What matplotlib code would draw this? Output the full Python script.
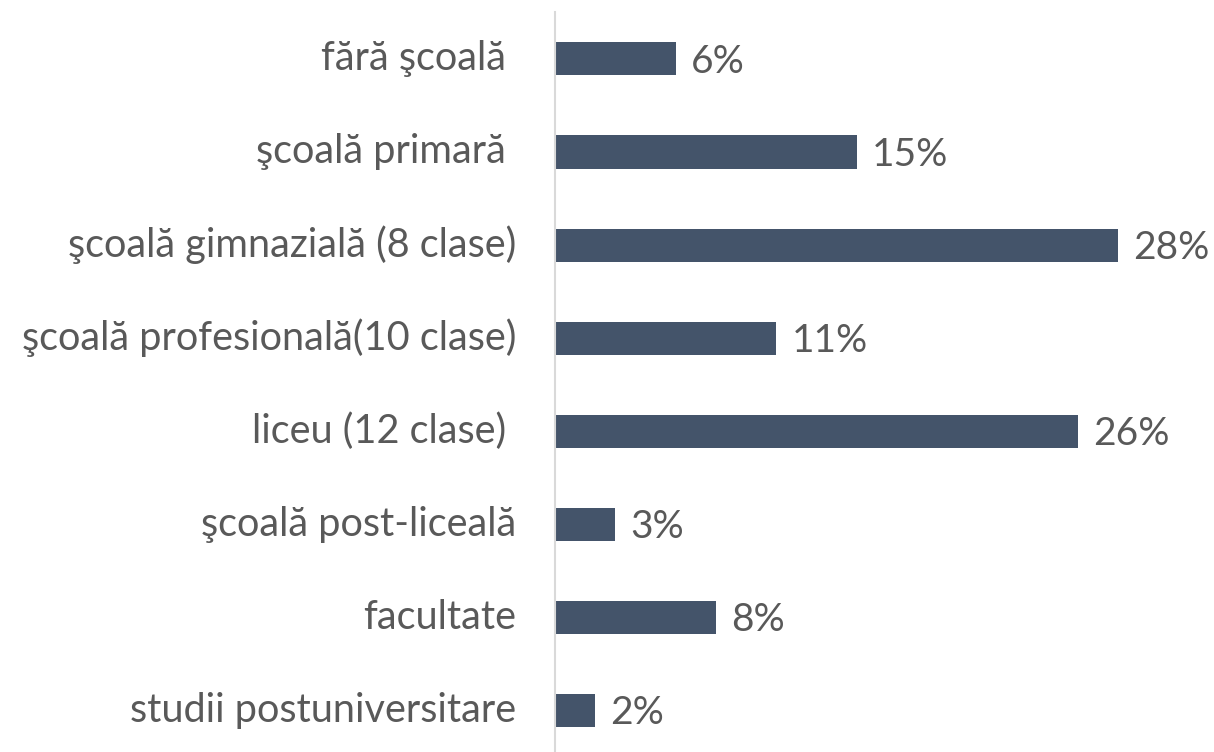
import matplotlib.pyplot as plt

categories = [
    "fără şcoală ",
    "şcoală primară ",
    "şcoală gimnazială (8 clase)",
    "şcoală profesională(10 clase)",
    "liceu (12 clase) ",
    "şcoală post-liceală",
    "facultate",
    "studii postuniversitare",
]
percent = [6, 15, 28, 11, 26, 3, 8, 2]

BAR = "#44546A"
TEXT = "#595959"

plt.rcParams["font.family"] = ["Lato", "DejaVu Sans"]

fig = plt.figure(figsize=(12.14, 7.52), dpi=100)
ax = fig.add_axes([555 / 1214, 0, 659 / 1214, 740 / 752])

pos = list(range(len(categories)))
ax.barh(pos, percent, height=0.355, color=BAR)

for y, v in zip(pos, percent):
    ax.annotate(f"{v}%", (v, y), xytext=(11, -2), textcoords="offset points",
                va="center", ha="left", fontsize=28, color=TEXT)

ax.set_yticks(pos)
ax.set_yticklabels(categories, fontsize=28.5, color=TEXT)
ax.tick_params(axis="y", length=0, pad=28)
for lbl in ax.get_yticklabels():
    lbl.set_verticalalignment("center")
ax.set_xticks([])
ax.set_xlim(0, 659 / 20.1)
ax.set_ylim(7.45, -0.505)

for side in ["top", "right", "bottom"]:
    ax.spines[side].set_visible(False)
ax.spines["left"].set_color("#D9D9D9")
ax.spines["left"].set_linewidth(1.5)

fig.savefig("out.png", dpi=100)
